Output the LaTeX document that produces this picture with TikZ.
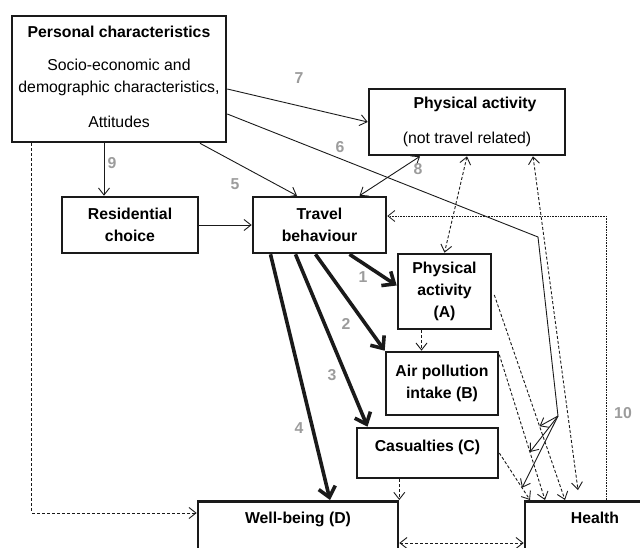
\documentclass[tikz,border=0pt]{standalone}
\usepackage{fontspec}
\setmainfont{Liberation Sans}
\usetikzlibrary{arrows.meta,calc}
\definecolor{boxline}{HTML}{1A1A1A}
\definecolor{numgray}{HTML}{9C9C9C}
\newcommand\boxfont{\fontsize{15.8}{22}\selectfont}
\tikzset{
  box/.style={draw=boxline,line width=2.6pt,align=center,font=\boxfont\bfseries,inner sep=2pt},
  link/.style={draw=boxline,line width=0.9pt,-{Straight Barb[length=7pt,width=11pt]}},
  biglink/.style={draw=boxline,line width=3.6pt,-{Straight Barb[length=10pt,width=17pt]}},
  dashlink/.style={link,dash pattern=on 3pt off 2pt},
  dotlink/.style={link,line width=0.8pt,dash pattern=on 0.8pt off 0.8pt},
  num/.style={font=\boxfont\bfseries,text=numgray,inner sep=0pt}
}
\begin{document}
\begin{tikzpicture}[x=1pt,y=-1pt]
\useasboundingbox (0,0) rectangle (640,547);
\clip (0,0) rectangle (640,547);

% boxes
\node[box,minimum width=214pt,minimum height=126pt] (pc) at (119,79)
  {Personal characteristics\\[11pt]\mdseries Socio-economic and\\\mdseries demographic characteristics,\\[13pt]\mdseries Attitudes\rule[-5pt]{0pt}{5pt}};
\node[box,minimum width=196pt,minimum height=66pt] (pa) at (467,122)
  {\hspace*{16pt}Physical activity\\[13pt]\mdseries (not travel related)};
\node[box,minimum width=136pt,minimum height=56pt] (rc) at (130,225) {Residential\\choice};
\node[box,minimum width=133pt,minimum height=56pt] (tb) at (319.5,225) {Travel\\behaviour};
\node[box,minimum width=93pt,minimum height=75pt] (pA) at (444.5,291.5) {Physical\\activity\\(A)};
\node[box,minimum width=112pt,minimum height=63pt] (aB) at (442,383.5) {Air pollution\\intake (B)};
\node[box,minimum width=141pt,minimum height=50pt,text depth=14pt] (cC) at (427.5,453) {Casualties (C)};
\node[box,minimum width=200pt,anchor=north,text height=20.6pt,text depth=40pt] (wb) at (298,500) {Well-being (D)};
\node[box,minimum width=140pt,anchor=north,text height=20.6pt,text depth=40pt] (he) at (595,500) {Health};

% solid links
\draw[link] ([xshift=-15pt]pc.south) -- ([xshift=-26pt]rc.north);
\draw[link] ([xshift=81pt]pc.south) -- ([xshift=-22.5pt]tb.north);
\draw[link] ([yshift=-10pt]pc.east) -- (pa.west);
\draw[link,{Straight Barb[length=7pt,width=11pt]}-{Straight Barb[length=7pt,width=11pt]}] ([xshift=-47pt]pa.south) -- ([xshift=40pt]tb.north);
\draw[link] (rc.east) -- (tb.west);

% thick links
\draw[biglink] ([xshift=30pt]tb.south) -- ([yshift=6pt]pA.west);
\draw[biglink] ([xshift=-4pt]tb.south) -- (aB.north west);
\draw[biglink] ([xshift=-24pt]tb.south) -- ([xshift=-60pt]cC.north);
\draw[biglink] ([xshift=-49pt]tb.south) -- ([xshift=32pt]wb.north);

% dashed links
\draw[dashlink,{Straight Barb[length=7pt,width=11pt]}-{Straight Barb[length=7pt,width=11pt]}] (pa.south) -- (pA.north);
\draw[dashlink,{Straight Barb[length=7pt,width=11pt]}-{Straight Barb[length=7pt,width=11pt]}] ([xshift=66pt]pa.south) -- ([xshift=-17pt,yshift=10pt]he.north);
\draw[dashlink] ([xshift=2pt,yshift=-3.5pt]pA.east) -- coordinate[pos=0.64] (onA) ([xshift=-30pt]he.north);
\draw[dashlink] ([yshift=-4pt]aB.north east) -- coordinate[pos=0.67] (onB) ([xshift=-50pt]he.north);
\draw[dashlink] (cC.east) -- coordinate[pos=0.74] (onC) ([xshift=-65pt]he.north);
\draw[dashlink] ([xshift=-23pt]pA.south) -- ([xshift=-23pt]pA.south |- aB.north);
\draw[dashlink] (cC.south -| wb.north east) -- (wb.north east);
\draw[dashlink] ([xshift=21pt]pc.south west) |- ([yshift=-13pt]wb.north west);
\draw[dashlink,{Straight Barb[length=7pt,width=11pt]}-{Straight Barb[length=7pt,width=11pt]}] ([yshift=-43pt]wb.north east) -- ([yshift=-43pt]he.north west);
\draw[dotlink] ([xshift=11pt]he.north) |- ([yshift=9pt]tb.east);

% link 6 with its three arrows
\coordinate (bend6a) at (538,237);
\coordinate (bend6b) at (558,416);
\draw[draw=boxline,line width=0.9pt] ([yshift=-35pt]pc.east) -- (bend6a) -- (bend6b);
\draw[link] (bend6b) -- (onA);
\draw[link] (bend6b) -- (onB);
\draw[link] (bend6b) -- (onC);

% numbers
\node[num] (n1) at (363,277) {1};
\node[num] (n2) at (346,324) {2};
\node[num] (n3) at (332,375) {3};
\node[num] (n4) at (299,428) {4};
\node[num] (n5) at (235,184) {5};
\node[num] (n6) at (340,147) {6};
\node[num] (n7) at (299,78) {7};
\node[num] (n8) at (418,169) {8};
\node[num] (n9) at (112,163) {9};
\node[num] (n10) at (623,413) {10};
\end{tikzpicture}
\end{document}
